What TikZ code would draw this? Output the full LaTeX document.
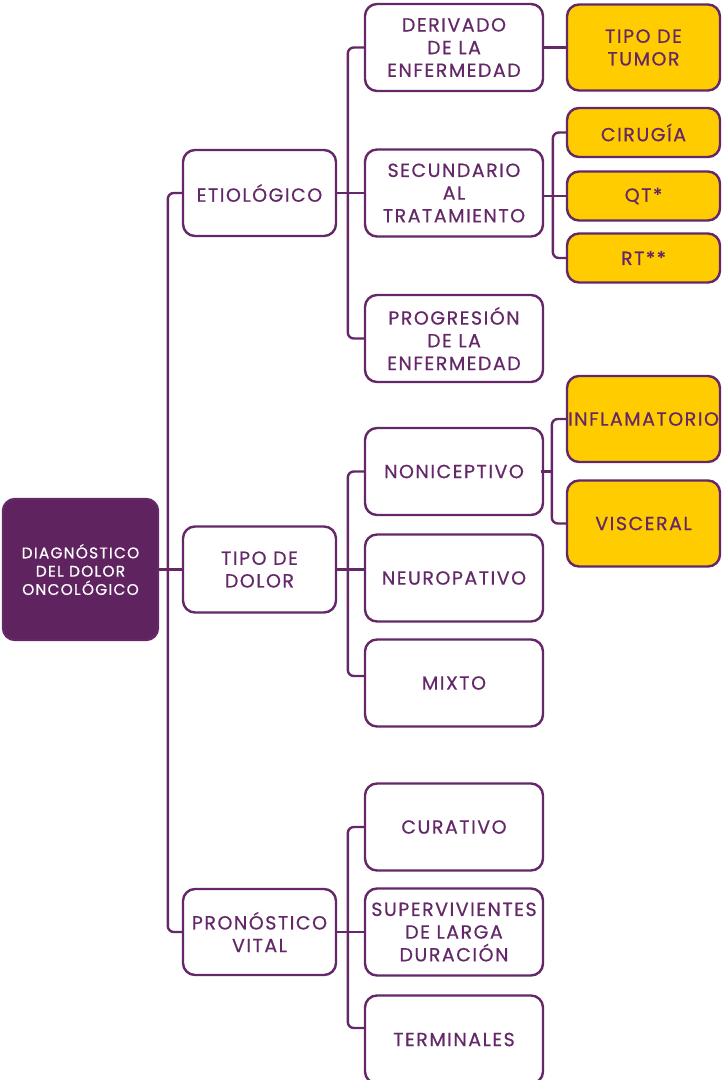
\documentclass[tikz,border=0pt]{standalone}
\usepackage{fontspec}
\setmainfont{Poppins}[FakeBold=0.6, LetterSpace=8]
\definecolor{pur}{HTML}{642869}
\definecolor{purfill}{HTML}{5F2360}
\definecolor{yel}{HTML}{FFCC00}
\begin{document}
\begin{tikzpicture}[x=1pt,y=-1pt,
  base/.style={draw=pur, line width=2.4pt, rounded corners=12pt, align=center,
    text=pur, font=\fontsize{19}{22.7}\selectfont, inner sep=0pt},
  rootbox/.style={base, fill=purfill, text=white, minimum width=155pt, minimum height=141pt,
    font=\fontsize{15.4}{18.3}\selectfont},
  lone/.style={base, minimum width=153pt, minimum height=86pt},
  ltwo/.style={base, minimum width=178pt, minimum height=87pt},
  lthree/.style={base, fill=yel, minimum width=153pt, minimum height=86pt},
  lsmall/.style={base, fill=yel, minimum width=153pt, minimum height=49pt},
  conn/.style={draw=pur, line width=2.4pt, rounded corners=6pt}
]
\useasboundingbox (0,0) rectangle (723,1080);
% root
\node[rootbox] (root) at (80.5,569.5) {DIAGNÓSTICO\\DEL DOLOR\\ONCOLÓGICO};
% level 1
\node[lone] (eti) at (259.5,193) {ETIOLÓGICO};
\node[lone] (tip) at (259.5,569.5) {TIPO DE\\DOLOR};
\node[lone] (pro) at (259.5,932) {PRONÓSTICO\\VITAL};
% level 2
\node[ltwo] (der) at (454,47.5) {DERIVADO\\DE LA\\ENFERMEDAD};
\node[ltwo] (sec) at (454,193) {SECUNDARIO\\AL\\TRATAMIENTO};
\node[ltwo] (prg) at (454,338.5) {PROGRESIÓN\\DE LA\\ENFERMEDAD};
\node[ltwo] (noc) at (454,471.5) {NONICEPTIVO};
\node[ltwo] (neu) at (454,578) {NEUROPATIVO};
\node[ltwo] (mix) at (454,683) {MIXTO};
\node[ltwo] (cur) at (454,827) {CURATIVO};
\node[ltwo] (sup) at (454,932) {SUPERVIVIENTES\\DE LARGA\\DURACIÓN};
\node[ltwo, minimum height=88pt] (ter) at (454,1039.5) {TERMINALES};
% level 3
\node[lthree] (tum) at (643.5,47.5) {TIPO DE\\TUMOR};
\node[lsmall] (cir) at (643.5,132.5) {CIRUGÍA};
\node[lsmall] (qt) at (643.5,196) {QT*};
\node[lsmall] (rt) at (643.5,258) {RT**};
\node[lthree] (inf) at (643.5,419) {INFLAMATORIO};
\node[lthree] (vis) at (643.5,523.5) {VISCERAL};
\coordinate (infbr) at ([xshift=-14pt]inf.west);
% connectors
\draw[conn] (eti.west) -- ++(-14,0) |- (pro.west);
\draw[conn] (root.east) -- (tip.west);
\draw[conn] (der.west) -- ++(-16,0) |- (prg.west);
\draw[conn] (eti.east) -- (sec.west);
\draw[conn] (noc.west) -- ++(-16,0) |- ([yshift=7pt]mix.west);
\draw[conn] (tip.east) -- (tip.east -| noc.west);
\draw[conn] (cur.west) -- ++(-16,0) |- ([yshift=11.5pt]ter.west);
\draw[conn] (pro.east) -- (sup.west);
\draw[conn] (der.east) -- (tum.west);
\draw[conn] (cir.west) -- ++(-13,0) |- (rt.west);
\draw[conn] (qt.west -| sec.east) -- (qt.west);
\draw[conn] (inf.west) -- (infbr) |- (vis.west);
\draw[conn] ([xshift=-3pt]noc.east) -- (noc.east -| infbr);
\end{tikzpicture}
\end{document}
